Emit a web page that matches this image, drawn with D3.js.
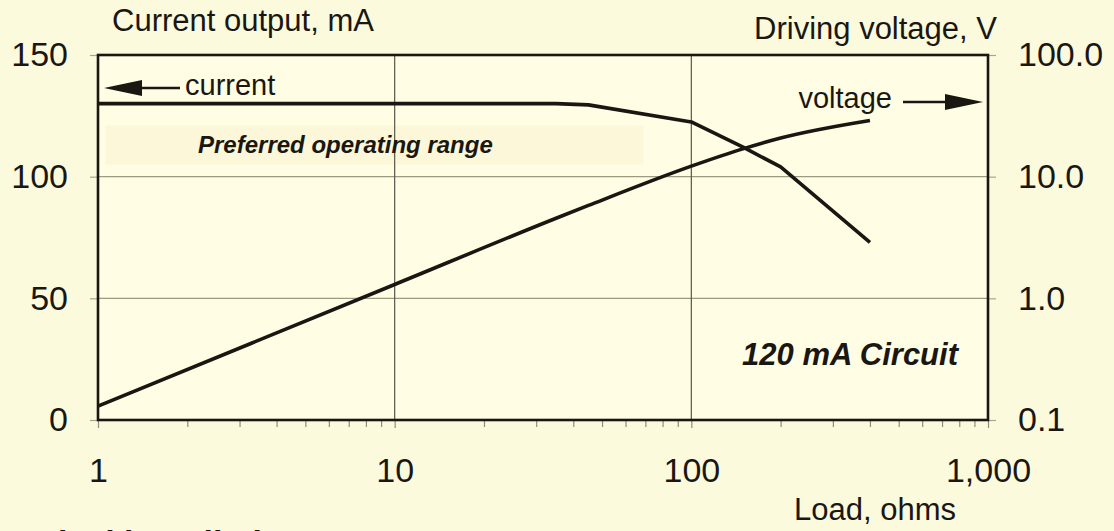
<!DOCTYPE html>
<html><head><meta charset="utf-8">
<script src="https://cdn.jsdelivr.net/npm/d3@7"></script>
<style>html,body{margin:0;padding:0;background:#fcfadd;}svg{display:block;}</style>
</head><body><svg id="c" width="1114" height="531"></svg>
<script>
// Data
const loads = [1, 10, 35, 45, 100, 150, 200, 400];
const currentMA = [130, 130, 130, 129.5, 122.5, 112, 104, 73];
const voltageV = [0.13, 1.3, 4.55, 5.8, 12.2, 17, 20.8, 29];
const xTicks = [1, 10, 100, 1000];
const xTickLabels = ["1", "10", "100", "1,000"];
const leftTicks = [0, 50, 100, 150];
const rightTicks = [0.1, 1, 10, 100];
const rightTickLabels = ["0.1", "1.0", "10.0", "100.0"];

const svg = d3.select("#c");
const W = 1114, H = 531;
const m = {l: 98, r: 988, t: 55, b: 420};
const font = "'Liberation Sans', Arial, sans-serif";
const ink = "#1a1712";

svg.append("rect").attr("width", W).attr("height", H).attr("fill", "#fcfadd");

const x = d3.scaleLog().domain([1, 1000]).range([m.l, m.r]);
const yL = d3.scaleLinear().domain([0, 150]).range([m.b, m.t]);
const yR = d3.scaleLog().domain([0.1, 100]).range([m.b, m.t]);

// plot background
svg.append("rect").attr("x", m.l).attr("y", m.t).attr("width", m.r - m.l).attr("height", m.b - m.t).attr("fill", "#fffde4");
// faint shaded "preferred range" box
svg.append("rect").attr("x", x(1.06)).attr("y", yL(121)).attr("width", x(69) - x(1.06)).attr("height", yL(105) - yL(121))
  .attr("fill", "#fbf7d8");

// gridlines
const g = svg.append("g");
g.selectAll(".hg").data([50, 100]).join("line")
  .attr("x1", m.l).attr("x2", m.r).attr("y1", d => yL(d)).attr("y2", d => yL(d))
  .attr("stroke", "#9d9a80").attr("stroke-width", 1.3);
g.selectAll(".vg").data([10, 100]).join("line")
  .attr("y1", m.t).attr("y2", m.b).attr("x1", d => x(d)).attr("x2", d => x(d))
  .attr("stroke", "#5a574a").attr("stroke-width", 1.2);

// bottom axis with minor ticks
const minor = [];
for (let e = 0; e < 3; e++) for (let k = 2; k <= 9; k++) minor.push(k * Math.pow(10, e));
const bx = svg.append("g").attr("transform", `translate(0,${m.b})`)
  .call(d3.axisBottom(x).tickValues(minor).tickSize(7).tickFormat(""));
bx.select(".domain").remove();
bx.selectAll("line").attr("stroke", "#8f8c78").attr("stroke-width", 1.2);
const bx2 = svg.append("g").attr("transform", `translate(0,${m.b})`)
  .call(d3.axisBottom(x).tickValues(xTicks).tickSize(8).tickPadding(30).tickFormat((d, i) => xTickLabels[i]));
bx2.select(".domain").remove();
bx2.selectAll("line").attr("stroke", "#8f8c78").attr("stroke-width", 1.2);
bx2.selectAll("text").attr("font-family", font).attr("font-size", 34).attr("fill", ink);

// left axis
const la = svg.append("g").attr("transform", `translate(${m.l},0)`)
  .call(d3.axisLeft(yL).tickValues(leftTicks).tickSize(8).tickPadding(22));
la.select(".domain").remove();
la.selectAll("line").attr("stroke", "#a8a58e").attr("stroke-width", 1.2);
la.selectAll("text").attr("font-family", font).attr("font-size", 34).attr("fill", ink);

// right axis
const ra = svg.append("g").attr("transform", `translate(${m.r},0)`)
  .call(d3.axisRight(yR).tickValues(rightTicks).tickSize(8).tickPadding(22).tickFormat((d, i) => rightTickLabels[i]));
ra.select(".domain").remove();
ra.selectAll("line").attr("stroke", "#a8a58e").attr("stroke-width", 1.2);
ra.selectAll("text").attr("font-family", font).attr("font-size", 34).attr("fill", ink);

// frame
svg.append("rect").attr("x", m.l).attr("y", m.t).attr("width", m.r - m.l).attr("height", m.b - m.t)
  .attr("fill", "none").attr("stroke", ink).attr("stroke-width", 2.6);

// curves
svg.append("path").datum(loads.map((d, i) => [d, currentMA[i]]))
  .attr("d", d3.line().x(d => x(d[0])).y(d => yL(d[1])))
  .attr("fill", "none").attr("stroke", ink).attr("stroke-width", 3.6).attr("stroke-linejoin", "round");
svg.append("path").datum(loads.map((d, i) => [d, voltageV[i]]))
  .attr("d", d3.line().x(d => x(d[0])).y(d => yR(d[1])).curve(d3.curveMonotoneX))
  .attr("fill", "none").attr("stroke", ink).attr("stroke-width", 3.6).attr("stroke-linejoin", "round");

// arrows
svg.append("line").attr("x1", 180).attr("x2", 140).attr("y1", 88).attr("y2", 88).attr("stroke", ink).attr("stroke-width", 2.5);
svg.append("path").attr("d", "M104,88 L142,80 L142,96 Z").attr("fill", ink);
svg.append("line").attr("x1", 903).attr("x2", 950).attr("y1", 102).attr("y2", 102).attr("stroke", ink).attr("stroke-width", 2.5);
svg.append("path").attr("d", "M983,102 L945,94 L945,110 Z").attr("fill", ink);

// texts
const t = (s, xx, yy, opts = {}) => svg.append("text").attr("x", xx).attr("y", yy)
  .attr("font-family", font).attr("font-size", opts.size || 26).attr("fill", ink)
  .attr("text-anchor", opts.anchor || "start").attr("font-weight", opts.weight || "normal")
  .attr("font-style", opts.style || "normal").attr("dominant-baseline", opts.base || "middle").text(s);
t("Current output, mA", 112, 23, {size: 31});
t("Driving voltage, V", 997, 31, {size: 31, anchor: "end"});
t("current", 185, 87, {size: 29});
t("voltage", 892, 100, {size: 29, anchor: "end"});
t("Preferred operating range", 198, 147, {size: 24, weight: "bold", style: "italic"});
t("120 mA Circuit", 958, 357, {size: 31, weight: "bold", style: "italic", anchor: "end"});
t("Load, ohms", 875, 512, {size: 31, anchor: "middle"});
t("Typical installation", 0, 554, {size: 34, weight: "bold", base: "alphabetic"});
</script></body></html>
